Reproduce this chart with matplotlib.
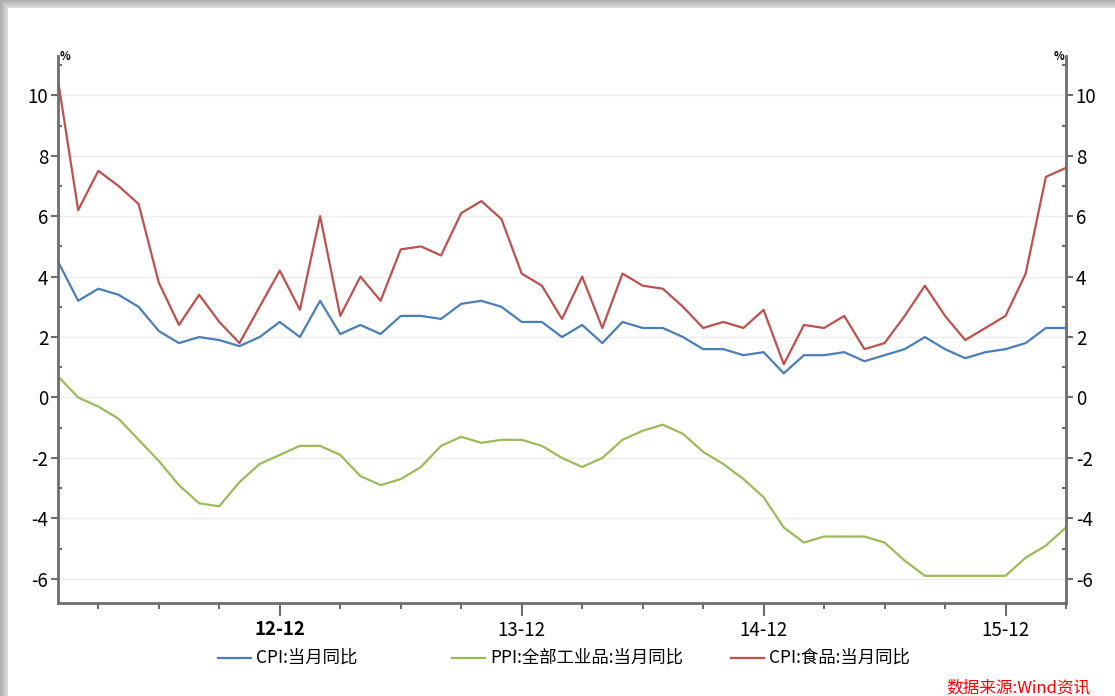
import numpy as np
import matplotlib
matplotlib.use("Agg")
import matplotlib.pyplot as plt
from matplotlib.lines import Line2D
from matplotlib.ticker import FixedLocator, MultipleLocator

plt.rcParams['font.family'] = ['Noto Sans CJK SC', 'DejaVu Sans']

# Monthly data 2012-01 .. 2016-03
months = [f"{y}-{m:02d}" for y in range(2012, 2017) for m in range(1, 13)][:51]

cpi = [4.5, 3.2, 3.6, 3.4, 3.0, 2.2, 1.8, 2.0, 1.9, 1.7, 2.0, 2.5,
       2.0, 3.2, 2.1, 2.4, 2.1, 2.7, 2.7, 2.6, 3.1, 3.2, 3.0, 2.5,
       2.5, 2.0, 2.4, 1.8, 2.5, 2.3, 2.3, 2.0, 1.6, 1.6, 1.4, 1.5,
       0.8, 1.4, 1.4, 1.5, 1.2, 1.4, 1.6, 2.0, 1.6, 1.3, 1.5, 1.6,
       1.8, 2.3, 2.3]

ppi = [0.7, 0.0, -0.3, -0.7, -1.4, -2.1, -2.9, -3.5, -3.6, -2.8, -2.2, -1.9,
       -1.6, -1.6, -1.9, -2.6, -2.9, -2.7, -2.3, -1.6, -1.3, -1.5, -1.4, -1.4,
       -1.6, -2.0, -2.3, -2.0, -1.4, -1.1, -0.9, -1.2, -1.8, -2.2, -2.7, -3.3,
       -4.3, -4.8, -4.6, -4.6, -4.6, -4.8, -5.4, -5.9, -5.9, -5.9, -5.9, -5.9,
       -5.3, -4.9, -4.3]

cpi_food = [10.5, 6.2, 7.5, 7.0, 6.4, 3.8, 2.4, 3.4, 2.5, 1.8, 3.0, 4.2,
            2.9, 6.0, 2.7, 4.0, 3.2, 4.9, 5.0, 4.7, 6.1, 6.5, 5.9, 4.1,
            3.7, 2.6, 4.0, 2.3, 4.1, 3.7, 3.6, 3.0, 2.3, 2.5, 2.3, 2.9,
            1.1, 2.4, 2.3, 2.7, 1.6, 1.8, 2.7, 3.7, 2.7, 1.9, 2.3, 2.7,
            4.1, 7.3, 7.6]

series_names = ["CPI:当月同比", "PPI:全部工业品:当月同比", "CPI:食品:当月同比"]
colors = ["#4A7EBB", "#9BBB59", "#C0504D"]
major_labels = ["12-12", "13-12", "14-12", "15-12"]
source_text = "数据来源:Wind资讯"

W, H = 1115, 696
fig = plt.figure(figsize=(W / 100, H / 100), dpi=100)

# shadow frame (decoration)
bg = fig.add_axes([0, 0, 1, 1], zorder=-10)
img = np.ones((H, W, 3))
for d in range(8):
    v = 0.68 + 0.025 * d
    img[d, d:, :] = np.minimum(img[d, d:, :], v)
    img[d:, d, :] = np.minimum(img[d:, d, :], v)
bg.imshow(img, aspect='auto', extent=[0, W, H, 0], interpolation='bilinear')
bg.set_xlim(0, W); bg.set_ylim(H, 0)
bg.axis('off')

left, right, top, bottom = 58, 1066, 56, 603
ax = fig.add_axes([left / W, 1 - bottom / H, (right - left) / W, (bottom - top) / H])
ax.patch.set_alpha(0)

x = np.arange(len(months))
for vals, c in zip([cpi, ppi, cpi_food], colors):
    ax.plot(x, vals, color=c, lw=1.6, solid_joinstyle='round')

ax.set_xlim(0, len(months) - 1)
ax.set_ylim(-6.8, 11.3)

spine_c = "#6E6E6E"
ax.spines['top'].set_visible(False)
for s in ['left', 'right', 'bottom']:
    ax.spines[s].set_color(spine_c)
    ax.spines[s].set_linewidth(2)

# y ticks
ax.yaxis.set_major_locator(MultipleLocator(2))
ax.yaxis.set_minor_locator(MultipleLocator(1))
ax.tick_params(axis='y', which='major', direction='out', length=5, width=1.5,
               color=spine_c, labelsize=13.5, pad=2, left=True, right=True,
               labelleft=True, labelright=True)
ax.tick_params(axis='y', which='minor', direction='in', length=3, width=1.5,
               color=spine_c, left=True, right=True)
ax.set_yticks(np.arange(-6, 11, 2))
ax.set_yticklabels([f"{v:g}" for v in np.arange(-6, 11, 2)])
ax.grid(axis='y', which='major', color='#EDEDED', lw=1)
ax.set_axisbelow(True)

# x ticks: majors at December, minors each quarter
dec_idx = [i for i, m in enumerate(months) if m.endswith("-12")]
q_idx = [i for i, m in enumerate(months) if int(m[-2:]) % 3 == 0 and i not in dec_idx]
ax.xaxis.set_major_locator(FixedLocator(dec_idx))
ax.xaxis.set_minor_locator(FixedLocator(q_idx))
ax.set_xticklabels(major_labels)
ax.tick_params(axis='x', which='major', direction='out', length=9, width=1.5,
               color=spine_c, labelsize=13.5, pad=3)
ax.tick_params(axis='x', which='minor', direction='out', length=4, width=1.5,
               color=spine_c)
ax.get_xticklabels()[0].set_fontweight('bold')

# % unit labels
fig.text(60 / W, 1 - 56 / H, "%", fontsize=8, fontweight='bold', ha='left', va='center')
fig.text(1064 / W, 1 - 56 / H, "%", fontsize=8, fontweight='bold', ha='right', va='center')

# legend (manual)
leg_y = 1 - 658 / H
leg_x = [218, 452, 731]
for lx, name, c in zip(leg_x, series_names, colors):
    fig.add_artist(Line2D([lx / W, (lx + 33) / W], [leg_y, leg_y], color=c, lw=1.6,
                          transform=fig.transFigure))
    fig.text((lx + 38) / W, leg_y, name, fontsize=12.5, ha='left', va='center')

fig.text(1090 / W, 1 - 688 / H, source_text, fontsize=12, color='#FF0000',
         ha='right', va='center', style='italic')

fig.savefig("out.png", dpi=100)
